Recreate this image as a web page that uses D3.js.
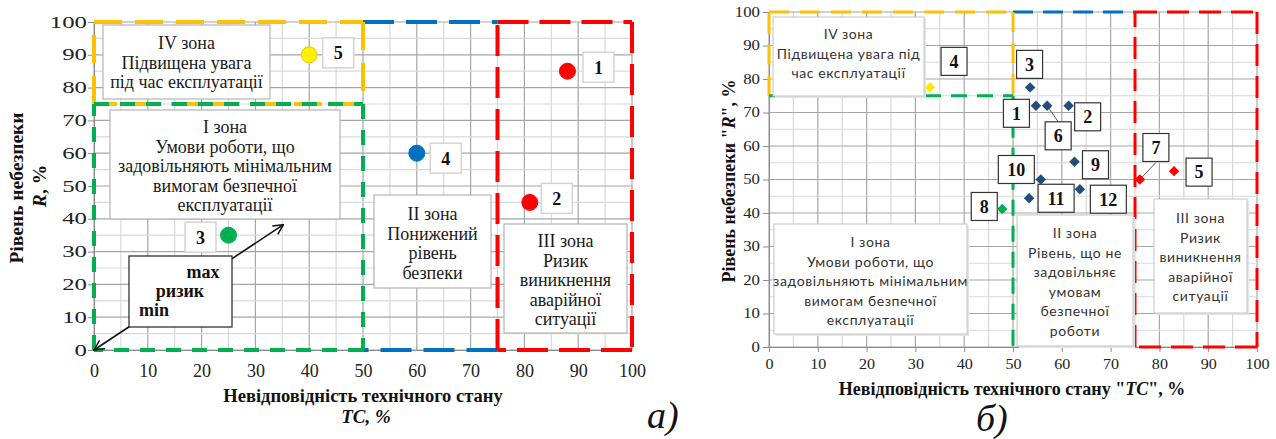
<!DOCTYPE html>
<html><head><meta charset="utf-8">
<script src="https://cdn.jsdelivr.net/npm/d3@7"></script>
<style>body{margin:0;background:#fff;} svg{display:block}</style>
</head><body>
<svg id="c" width="1276" height="439"></svg>
<script>
// ---------- DATA ----------
// panel a)
const aIds  = [1, 2, 3, 4, 5];
const aTC   = [88, 81, 25, 60, 40];
const aR    = [85, 45, 35, 60, 90];
const aZone = ["III", "III", "I", "II", "IV"];
// panel б)
const bIds  = [1, 2, 3, 4, 5, 6, 7, 8, 9, 10, 11, 12];
const bTC   = [54.7, 61.4, 53.5, 33, 83, 57, 76, 47.8, 62.6, 55.7, 53.3, 63.7];
const bR    = [72, 72, 77.5, 77.5, 52.5, 72, 50, 41.2, 55.3, 50, 44.4, 47.1];
const bZone = ["II", "II", "II", "IV", "III", "II", "III", "I", "II", "II", "II", "II"];
// zones (TC from-to, R from-to)
const zoneNames = ["II", "IV", "I", "III"];
const zoneTC0 = [50, 0, 0, 75];
const zoneTC1 = [75, 50, 50, 100];
const zoneR0  = [0, 75, 0, 0];
const zoneR1  = [100, 100, 75, 100];
// ticks
const tickVals = [0, 10, 20, 30, 40, 50, 60, 70, 80, 90, 100];
const gridVals = d3.range(0, 101, 5);
// texts
const aZoneText = {
  IV: ["IV зона", "Підвищена увага", "під час експлуатації"],
  I: ["I зона", "Умови роботи, що", "задовільняють мінімальним", "вимогам безпечної", "експлуатації"],
  II: ["II зона", "Понижений", "рівень", "безпеки"],
  III: ["III зона", "Ризик", "виникнення", "аварійної", "ситуації"]
};
const bZoneText = {
  IV: ["IV зона", "Підвищена увага під", "час експлуатації"],
  I: ["I зона", "Умови роботи, що", "задовільняють мінімальним", "вимогам безпечної", "експлуатації"],
  II: ["II зона", "Рівень, що не", "задовільняє", "умовам", "безпечної", "роботи"],
  III: ["III зона", "Ризик", "виникнення", "аварійної", "ситуації"]
};
const riskWords = ["max", "ризик", "min"];

// ---------- STYLE / LAYOUT ----------
const lineColor = {I: "#00B050", II: "#0070C0", III: "#FF0000", IV: "#FFC000"};
const aMarkColor = {I: "#00B050", II: "#0070C0", III: "#FF0000", IV: "#FFF000"};
const bMarkColor = {I: "#00B050", II: "#1F4E79", III: "#FF0000", IV: "#FFE800"};
const serif = "'Liberation Serif','Times New Roman',serif";
const gost = "Lato,'DejaVu Sans',sans-serif";

const svg = d3.select("#c");

function grid(g, x, y) {
  g.append("g").selectAll("line").data(gridVals).join("line")
    .attr("x1", d => x(d)).attr("x2", d => x(d))
    .attr("y1", y(0)).attr("y2", y(100))
    .attr("stroke", d => d % 10 === 0 ? "#a6a6a6" : "#d9d9d9").attr("stroke-width", 1.2);
  g.append("g").selectAll("line").data(gridVals).join("line")
    .attr("y1", d => y(d)).attr("y2", d => y(d))
    .attr("x1", x(0)).attr("x2", x(100))
    .attr("stroke", d => d % 10 === 0 ? "#a6a6a6" : "#d9d9d9").attr("stroke-width", 1.2);
}

function zones(g, x, y, sw, dashes, sides) {
  zoneNames.forEach((z, i) => {
    const x0 = x(zoneTC0[i]), x1 = x(zoneTC1[i]), y0 = y(zoneR0[i]), y1 = y(zoneR1[i]);
    const s = sides[z];
    const segs = [];
    if (s.includes("l")) segs.push([[x0, y0], [x0, y1]]);
    if (s.includes("t")) segs.push([[x0, y1], [x1, y1]]);
    if (s.includes("r")) segs.push([[x1, y1], [x1, y0]]);
    if (s.includes("b")) segs.push([[x1, y0], [x0, y0]]);
    segs.forEach(sg => {
      g.append("line").attr("x1", sg[0][0]).attr("y1", sg[0][1]).attr("x2", sg[1][0]).attr("y2", sg[1][1])
        .attr("stroke", lineColor[z]).attr("stroke-width", sw).attr("stroke-dasharray", dashes[z]);
    });
  });
}

function textBox(g, b, lines, opt) {
  const gg = g.append("g");
  if (opt.shadow) gg.append("rect").attr("x", b[0] + 2).attr("y", b[1] + 2).attr("width", b[2]).attr("height", b[3]).attr("fill", "#e4e4e4");
  gg.append("rect").attr("x", b[0]).attr("y", b[1]).attr("width", b[2]).attr("height", b[3])
    .attr("fill", "#fff").attr("stroke", opt.stroke).attr("stroke-width", opt.sw || 1);
  lines.forEach((t, i) => {
    gg.append("text").attr("x", b[0] + b[2] / 2).attr("y", opt.cy + i * opt.lh).attr("dy", "0.35em")
      .attr("text-anchor", "middle").attr("font-family", opt.font).attr("font-size", opt.size)
      .attr("letter-spacing", opt.ls || 0).attr("fill", opt.fill || "#222").text(t);
  });
}

function labelBox(g, cx, cy, txt, opt) {
  const w = String(txt).length > 1 ? opt.w2 : opt.w1, h = opt.h;
  g.append("rect").attr("x", cx - w / 2).attr("y", cy - h / 2).attr("width", w).attr("height", h)
    .attr("fill", "#fff").attr("stroke", opt.stroke).attr("stroke-width", opt.sw);
  g.append("text").attr("x", cx).attr("y", cy).attr("dy", "0.35em").attr("text-anchor", "middle")
    .attr("font-family", serif).attr("font-weight", "bold").attr("font-size", opt.size).attr("fill", "#111").text(txt);
}

// ================= PANEL a) =================
(function () {
  const x = d3.scaleLinear().domain([0, 100]).range([94, 632]);
  const y = d3.scaleLinear().domain([0, 100]).range([350, 22]);
  const g = svg.append("g");
  grid(g, x, y);
  // axes
  const ya = g.append("g").attr("transform", `translate(${x(0)},0)`)
    .call(d3.axisLeft(y).tickValues(tickVals).tickSize(6).tickPadding(1).tickSizeOuter(0));
  ya.select(".domain").attr("stroke", "#8c8c8c");
  ya.selectAll(".tick line").attr("stroke", "#8c8c8c");
  ya.selectAll("text").attr("font-family", serif).attr("font-size", 16).attr("fill", "#222")
    .attr("transform", "scale(1.55,1)").attr("x", -7 / 1.55);
  const xa = g.append("g").attr("transform", `translate(0,${y(0)})`)
    .call(d3.axisBottom(x).tickValues(tickVals).tickSize(0).tickPadding(14).tickSizeOuter(0));
  xa.select(".domain").attr("stroke", "#8c8c8c");
  xa.selectAll("text").attr("font-family", serif).attr("font-size", 18).attr("fill", "#222");

  zones(g, x, y, 4,
    {I: "15,11", II: "31,12", III: "31,11", IV: "28,13"},
    {I: "ltrb", II: "tb", III: "ltrb", IV: "ltrb"});

  // zone text boxes
  const bo = {stroke: "#b4b4b4", sw: 1.2, font: serif, size: 18, lh: 19.5, fill: "#1a1a1a"};
  textBox(g, [103, 25, 167, 74], aZoneText.IV, {...bo, cy: 43});
  textBox(g, [110, 110, 230, 109], aZoneText.I, {...bo, cy: 127});
  textBox(g, [374, 195, 117, 93], aZoneText.II, {...bo, cy: 214});
  textBox(g, [504, 224, 123, 109], aZoneText.III, {...bo, cy: 241});

  // risk arrow
  const defs = svg.append("defs");
  defs.append("marker").attr("id", "oa").attr("viewBox", "0 0 12 12").attr("refX", 11).attr("refY", 6)
    .attr("markerWidth", 12).attr("markerHeight", 12).attr("markerUnits", "userSpaceOnUse")
    .attr("orient", "auto-start-reverse")
    .append("path").attr("d", "M1,1 L11,6 L1,11").attr("fill", "none").attr("stroke", "#111").attr("stroke-width", 1.5);
  g.append("line").attr("x1", x(0)).attr("y1", y(0)).attr("x2", x(35.2)).attr("y2", y(38.2))
    .attr("stroke", "#111").attr("stroke-width", 1.6)
    .attr("marker-start", "url(#oa)").attr("marker-end", "url(#oa)");
  g.append("rect").attr("x", 129).attr("y", 256).attr("width", 103).attr("height", 71)
    .attr("fill", "#fff").attr("stroke", "#222").attr("stroke-width", 1.2);
  const rwX = [203, 180, 154], rwY = [278, 297, 316];
  riskWords.forEach((w, i) => g.append("text").attr("x", rwX[i]).attr("y", rwY[i]).attr("text-anchor", "middle")
    .attr("font-family", serif).attr("font-weight", "bold").attr("font-size", 18).attr("fill", "#111").text(w));

  // points + labels
  const aOff = {1: [31, -4], 2: [27, -4], 3: [-28, 2], 4: [29, 5], 5: [29, -2]};
  aIds.forEach((id, i) => {
    const px = x(aTC[i]), py = y(aR[i]);
    labelBox(g, px + aOff[id][0], py + aOff[id][1], id, {w1: 31, w2: 38, h: 30, stroke: "#d4d4d4", sw: 1.5, size: 18});
    g.append("circle").attr("cx", px).attr("cy", py).attr("r", 8)
      .attr("fill", aMarkColor[aZone[i]]).attr("stroke", aZone[i] === "IV" ? "#E8C800" : aMarkColor[aZone[i]]).attr("stroke-width", 1);
  });

  // titles
  g.append("text").attr("transform", "translate(23,188) rotate(-90)").attr("text-anchor", "middle")
    .attr("font-family", serif).attr("font-weight", "bold").attr("font-size", 19.5).attr("fill", "#111").text("Рівень небезпеки");
  const t2 = g.append("text").attr("transform", "translate(46,186) rotate(-90)").attr("text-anchor", "middle")
    .attr("font-family", serif).attr("font-weight", "bold").attr("font-size", 19.5).attr("fill", "#111");
  t2.append("tspan").attr("font-style", "italic").text("R");
  t2.append("tspan").text(", %");
  g.append("text").attr("x", 363).attr("y", 402).attr("text-anchor", "middle")
    .attr("font-family", serif).attr("font-weight", "bold").attr("font-size", 18.5).attr("fill", "#111").text("Невідповідність технічного стану");
  g.append("text").attr("x", 366).attr("y", 423).attr("text-anchor", "middle")
    .attr("font-family", serif).attr("font-weight", "bold").attr("font-style", "italic").attr("font-size", 19).attr("fill", "#111").text("TC, %");
  g.append("text").attr("x", 647).attr("y", 428).attr("font-family", serif).attr("font-style", "italic")
    .attr("font-size", 38).attr("fill", "#111").text("а)");
})();

// ================= PANEL б) =================
(function () {
  const x = d3.scaleLinear().domain([0, 100]).range([769, 1257]);
  const y = d3.scaleLinear().domain([0, 100]).range([347, 12]);
  const g = svg.append("g");
  grid(g, x, y);
  const ya = g.append("g").attr("transform", `translate(${x(0)},0)`)
    .call(d3.axisLeft(y).tickValues(tickVals).tickSize(6).tickPadding(3).tickSizeOuter(0));
  ya.select(".domain").attr("stroke", "#8c8c8c");
  ya.selectAll(".tick line").attr("stroke", "#8c8c8c");
  ya.selectAll("text").attr("font-family", serif).attr("font-size", 14).attr("fill", "#222")
    .attr("transform", "scale(1.2,1)").attr("x", -9 / 1.2);
  const xa = g.append("g").attr("transform", `translate(0,${y(0)})`)
    .call(d3.axisBottom(x).tickValues(tickVals).tickSize(5).tickPadding(7).tickSizeOuter(0));
  xa.select(".domain").attr("stroke", "#8c8c8c");
  xa.selectAll(".tick line").attr("stroke", "#8c8c8c");
  xa.selectAll("text").attr("font-family", serif).attr("font-size", 14).attr("fill", "#222")
    .attr("transform", "scale(1.15,1)").attr("x", 0);

  zones(g, x, y, 3,
    {I: "16,10", II: "20,10", III: "22,10", IV: "20,11"},
    {I: "tr", II: "t", III: "ltrb", IV: "ltr"});

  const bo = {stroke: "#c4c4c4", sw: 1, font: gost, size: 14, lh: 19.6, ls: 0.6, fill: "#333", shadow: true};
  textBox(g, [773, 17, 151, 79], bZoneText.IV, {...bo, cy: 34});
  textBox(g, [774, 224, 193, 110], bZoneText.I, {...bo, cy: 242});
  textBox(g, [1017, 215, 116, 131], bZoneText.II, {...bo, cy: 233});
  textBox(g, [1154, 199, 93, 114], bZoneText.III, {...bo, cy: 218});

  const bOff = {1: [-19.5, 7.5], 2: [19, 11], 3: [-0.5, -23], 4: [24, -26], 5: [25, 1], 6: [11, 30],
                7: [16, -32], 8: [-18, -2.5], 9: [21, 3], 10: [-24.5, -10], 11: [27, 0], 12: [28.5, 10]};
  const leader = {6: true, 7: true};
  bIds.forEach((id, i) => {
    const px = x(bTC[i]), py = y(bR[i]);
    const cx = px + bOff[id][0], cy = py + bOff[id][1];
    if (leader[id]) {
      const ey = bOff[id][1] > 0 ? cy - 14 : cy + 15;
      g.append("line").attr("x1", px).attr("y1", py).attr("x2", cx).attr("y2", ey).attr("stroke", "#555").attr("stroke-width", 1);
    }
    labelBox(g, cx, cy, id, {w1: 26, w2: 36, h: 28, stroke: "#333", sw: 1.2, size: 18});
  });
  bIds.forEach((id, i) => {
    const px = x(bTC[i]), py = y(bR[i]);
    g.append("path").attr("d", d3.symbol(d3.symbolDiamond2, 70)())
      .attr("transform", `translate(${px},${py})`).attr("fill", bMarkColor[bZone[i]]);
  });

  const yt = g.append("text").attr("transform", "translate(735,181) rotate(-90)").attr("text-anchor", "middle")
    .attr("font-family", serif).attr("font-weight", "bold").attr("font-size", 18).attr("fill", "#111");
  yt.append("tspan").text("Рівень небезпеки \"");
  yt.append("tspan").attr("font-style", "italic").text("R");
  yt.append("tspan").text("\", %");
  const xt = g.append("text").attr("x", 1012).attr("y", 395).attr("text-anchor", "middle")
    .attr("font-family", serif).attr("font-weight", "bold").attr("font-size", 18).attr("fill", "#111");
  xt.append("tspan").text("Невідповідність технічного стану \"");
  xt.append("tspan").attr("font-style", "italic").text("TC");
  xt.append("tspan").text("\", %");
  g.append("text").attr("x", 976).attr("y", 431).attr("font-family", serif).attr("font-style", "italic")
    .attr("font-size", 38).attr("fill", "#111").text("б)");
})();
</script>
</body></html>
